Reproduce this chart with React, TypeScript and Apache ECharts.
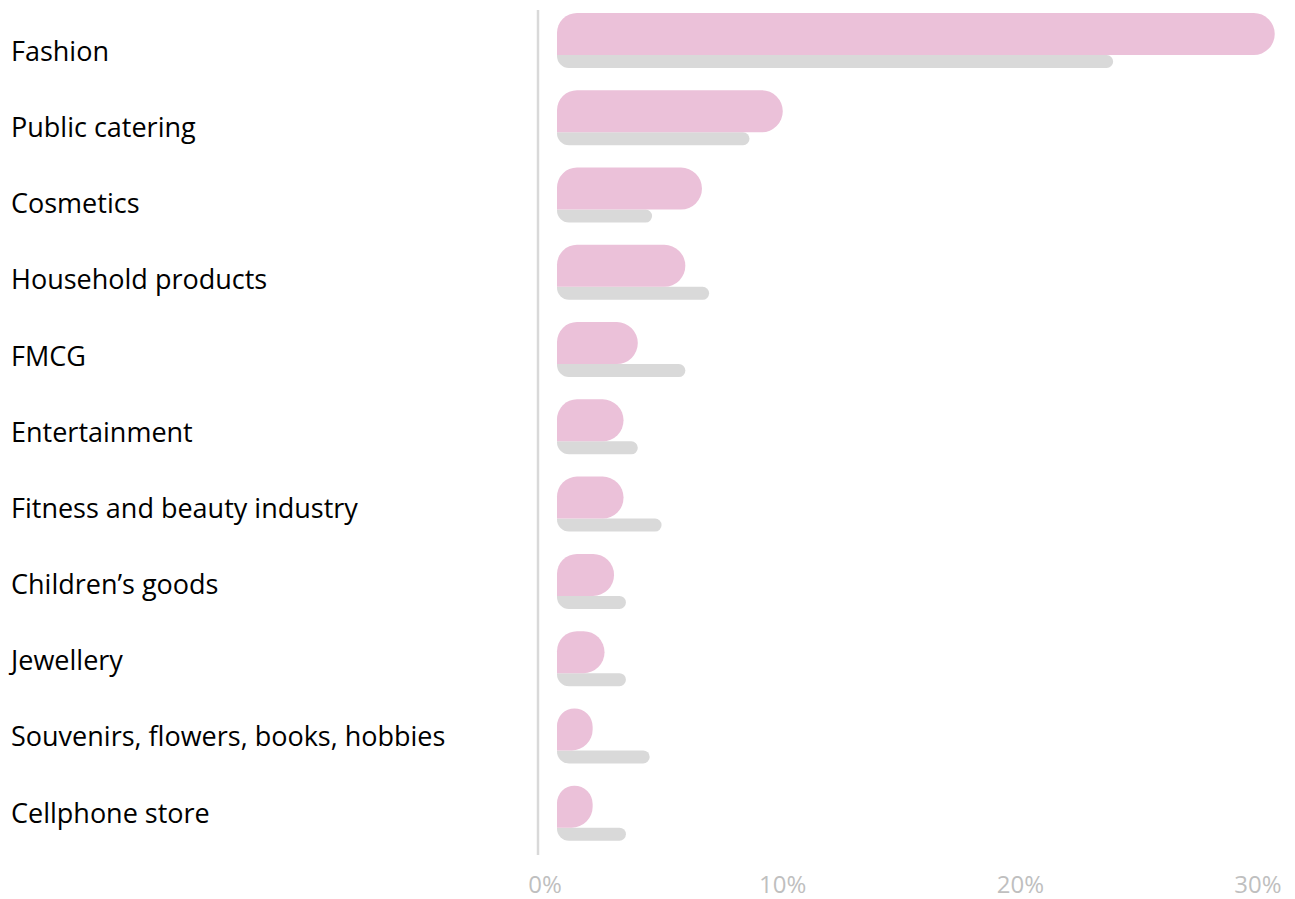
import React, { useEffect, useRef } from "react";
import * as echarts from "echarts";

const categories = [
  "Fashion",
  "Public catering",
  "Cosmetics",
  "Household products",
  "FMCG",
  "Entertainment",
  "Fitness and beauty industry",
  "Children’s goods",
  "Jewellery",
  "Souvenirs, flowers, books, hobbies",
  "Cellphone store",
];

const pinkValues = [30.2, 9.5, 6.1, 5.4, 3.4, 2.8, 2.8, 2.4, 2.0, 1.5, 1.5];
const greyValues = [23.4, 8.1, 4.0, 6.4, 5.4, 3.4, 4.4, 2.9, 2.9, 3.9, 2.9];

const xTicks = [0, 10, 20, 30];

export default function App() {
  const ref = useRef<HTMLDivElement>(null);

  useEffect(() => {
    document.body.style.margin = "0";
    if (!ref.current) return;
    const chart = echarts.init(ref.current, null, { renderer: "svg" });
    const font = "Open Sans";
    chart.setOption({
      animation: false,
      backgroundColor: "#ffffff",
      grid: [
        { left: 557, width: 713, top: 1.85, height: 850 },
        { left: 557, width: 713, top: 12.4, height: 837.7 },
      ],
      xAxis: [
        {
          type: "value",
          gridIndex: 0,
          min: xTicks[0],
          max: xTicks[xTicks.length - 1],
          interval: 10,
          splitLine: { show: false },
          axisLine: { show: false },
          axisTick: { show: false },
          axisLabel: {
            formatter: (v: number) => `${v}%`,
            color: "#bfbfbf",
            fontFamily: font,
            fontSize: 24,
            margin: 20,
            padding: [0, 24, 0, 0],
          },
        },
        {
          type: "value",
          gridIndex: 1,
          min: 0,
          max: 30,
          show: false,
        },
      ],
      yAxis: [
        {
          type: "category",
          gridIndex: 0,
          data: categories,
          inverse: true,
          axisLine: { show: false },
          axisTick: { show: false },
          splitLine: { show: false },
          axisLabel: { show: false },
        },
        {
          type: "category",
          gridIndex: 1,
          data: categories,
          inverse: true,
          axisLine: { show: false },
          axisTick: { show: false },
          splitLine: { show: false },
          axisLabel: {
            align: "left",
            margin: 546,
            color: "#000000",
            fontFamily: font,
            fontSize: 27,
          },
        },
      ],
      graphic: [
        {
          type: "line",
          shape: { x1: 538, y1: 10, x2: 538, y2: 855 },
          style: { stroke: "#d9d9d9", lineWidth: 2.5 },
        },
      ],
      series: [
        {
          type: "bar",
          data: pinkValues,
          barWidth: 42,
          barGap: "0%",
          clip: false,
          itemStyle: { color: "#ebc1d9", borderRadius: [20, 21, 21, 0] },
          z: 3,
        },
        {
          type: "bar",
          data: greyValues,
          barWidth: 13,
          barGap: "0%",
          clip: false,
          itemStyle: { color: "#d9d9d9", borderRadius: [0, 6.5, 6.5, 12] },
          z: 2,
        },
      ],
    });
    return () => chart.dispose();
  }, []);

  return <div ref={ref} style={{ width: 1295, height: 899 }} />;
}
